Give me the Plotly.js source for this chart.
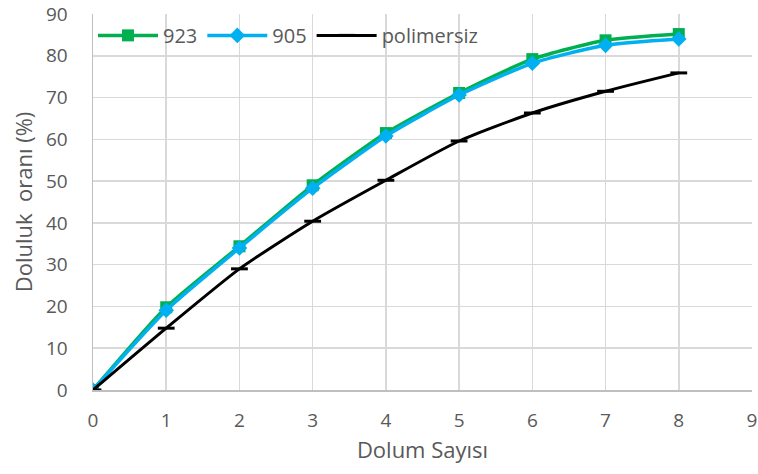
<!DOCTYPE html>
<html><head><meta charset="utf-8">
<script src="https://cdn.plot.ly/plotly-3.0.1.min.js"></script>
<style>body{margin:0;background:#fff}#c{width:758px;height:474px}</style>
</head><body><div id="c"></div>
<script>
const xs = [0,1,2,3,4,5,6,7,8];
const s923 = [0,19.8,34.4,49,61.5,71.1,79.2,83.7,85.2];
const s905 = [0,19.1,34,48.3,60.8,70.6,78.2,82.5,84];
const sPol = [0,14.8,29,40.4,50.2,59.6,66.3,71.5,75.9];
const names = ['923','905','polimersiz'];
const xTitle = 'Dolum Sayısı';
const yTitle = 'Doluluk  oranı (%)';

const font = {family:'"Open Sans", "Liberation Sans", sans-serif', color:'#595959'};
const traces = [
 {x:xs,y:s923,name:names[0],mode:'lines+markers',line:{color:'#00b050',width:3.5,shape:'spline',smoothing:0.6},marker:{symbol:'square',size:12,color:'#00b050'}},
 {x:xs,y:s905,name:names[1],mode:'lines+markers',line:{color:'#00b0f0',width:3.5,shape:'spline',smoothing:0.6},marker:{symbol:'diamond',size:12,color:'#00b0f0'}},
 {x:xs,y:sPol,name:names[2],mode:'lines+markers',line:{color:'#000000',width:3,shape:'spline',smoothing:0.6},marker:{symbol:'line-ew',size:12,color:'#000',line:{color:'#000',width:3}}}
];
const layout = {
 width:758,height:474,
 margin:{l:93,r:6,t:14,b:84},
 paper_bgcolor:'#fff',plot_bgcolor:'#fff',
 font:Object.assign({size:19},font),
 showlegend:true,
 legend:{orientation:'h',x:0.0,y:0.995,xanchor:'left',yanchor:'top',bgcolor:'rgba(0,0,0,0)',font:Object.assign({size:20},font),itemwidth:60,tracegroupgap:0},
 xaxis:{range:[0,9],dtick:1,tick0:0,showgrid:true,gridcolor:'#d9d9d9',gridwidth:1.5,zeroline:false,showline:true,linecolor:'#bfbfbf',linewidth:1.5,ticks:'',ticklabelstandoff:13,tickfont:Object.assign({size:19},font),
   title:{text:xTitle,font:Object.assign({size:22},font),standoff:10}},
 yaxis:{range:[0,90],dtick:10,tick0:0,showgrid:true,gridcolor:'#d9d9d9',gridwidth:1.5,zeroline:false,showline:true,linecolor:'#bfbfbf',linewidth:1.5,ticks:'',ticklabelstandoff:20,tickfont:Object.assign({size:19},font),
   title:{text:yTitle,font:Object.assign({size:22},font),standoff:7}}
};
Plotly.newPlot('c',traces,layout,{displayModeBar:false,staticPlot:true});
</script></body></html>
